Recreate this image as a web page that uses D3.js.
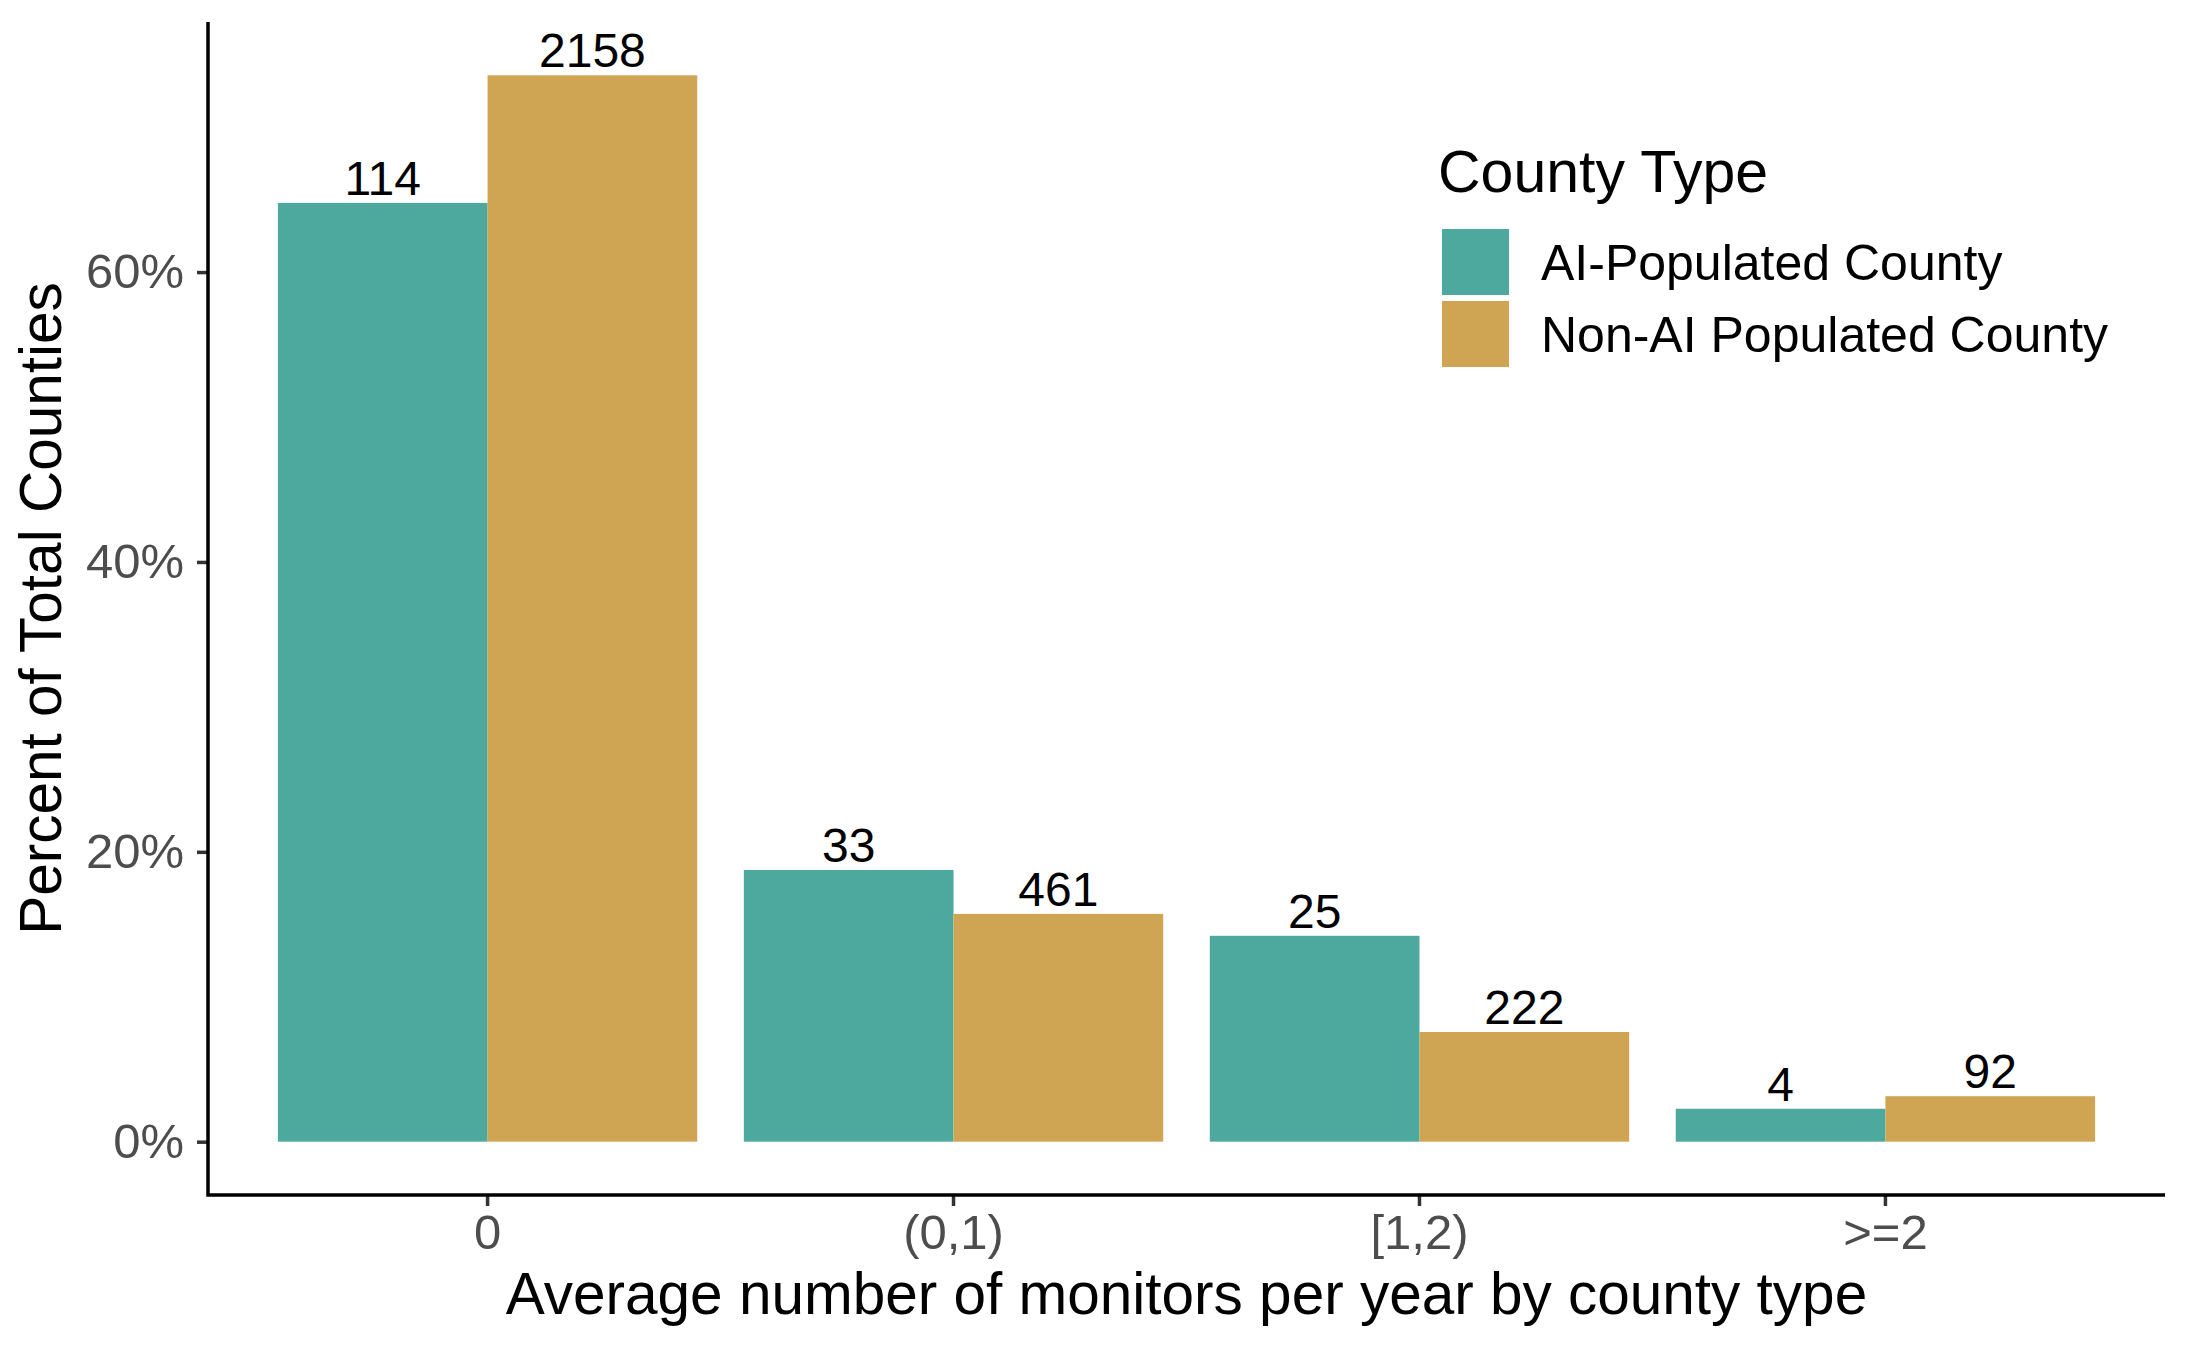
<!DOCTYPE html>
<html>
<head>
<meta charset="utf-8">
<script src="https://cdn.jsdelivr.net/npm/d3@7"></script>
<style>
  html, body { margin: 0; padding: 0; background: #fff; }
  svg { display: block; font-family: "Liberation Sans", Arial, Helvetica, sans-serif; }
</style>
</head>
<body>
<svg id="chart" width="2187" height="1351"></svg>
<script>
// Monitor bins along the x axis
const categories = ["0", "(0,1)", "[1,2)", ">=2"];

// County type series (legend order)
const seriesNames = ["AI-Populated County", "Non-AI Populated County"];
const seriesColors = ["#4DA89D", "#CFA553"];

// County counts per bin, one array per series
const aiCounts    = [114, 33, 25, 4];
const nonAiCounts = [2158, 461, 222, 92];

const yTicks = [0, 0.2, 0.4, 0.6];

const W = 2187, H = 1351;
// panel box (ggplot-like)
const P = { left: 208, right: 2165, top: 22, bottom: 1195 };

const countsBySeries = [aiCounts, nonAiCounts];
const totals = countsBySeries.map((arr) => d3.sum(arr));

// flatten into rows: share of counties within each county type
const rows = [];
categories.forEach((cat, i) => {
  seriesNames.forEach((s, j) => {
    const n = countsBySeries[j][i];
    rows.push({ cat, series: s, n, pct: n / totals[j], color: seriesColors[j] });
  });
});

const svg = d3.select("#chart");

const x = d3.scaleBand()
  .domain(categories)
  .range([P.left, P.right])
  .paddingInner(0.1)
  .paddingOuter(0.15);

const xSub = d3.scaleBand()
  .domain(seriesNames)
  .range([0, x.bandwidth()]);

// 5% expansion on both ends, like ggplot's default continuous scale
const maxPct = d3.max(rows, (d) => d.pct);
const pad = maxPct * 0.05;
const y = d3.scaleLinear()
  .domain([-pad, maxPct + pad])
  .range([P.bottom, P.top]);

// bars
svg.append("g")
  .selectAll("rect")
  .data(rows)
  .join("rect")
  .attr("x", (d) => x(d.cat) + xSub(d.series))
  .attr("width", xSub.bandwidth())
  .attr("y", (d) => y(d.pct))
  .attr("height", (d) => y(0) - y(d.pct))
  .attr("fill", (d) => d.color);

// count labels above bars
svg.append("g")
  .selectAll("text")
  .data(rows)
  .join("text")
  .attr("x", (d) => x(d.cat) + xSub(d.series) + xSub.bandwidth() / 2)
  .attr("y", (d) => y(d.pct) - 8)
  .attr("text-anchor", "middle")
  .attr("font-size", 48)
  .attr("fill", "#000")
  .text((d) => d.n);

// y axis
const yAxis = svg.append("g")
  .attr("transform", `translate(${P.left},0)`)
  .call(d3.axisLeft(y).tickValues(yTicks).tickFormat(d3.format(".0%")).tickSizeOuter(0).tickSize(11).tickPadding(13));
yAxis.select(".domain").remove();
yAxis.selectAll(".tick line").attr("stroke", "#333").attr("stroke-width", 3.5);
yAxis.selectAll(".tick text")
  .attr("font-size", 49)
  .attr("fill", "#4D4D4D")
  .attr("font-family", null);

// x axis
const xAxis = svg.append("g")
  .attr("transform", `translate(0,${P.bottom})`)
  .call(d3.axisBottom(x).tickSizeOuter(0).tickSize(11).tickPadding(8));
xAxis.select(".domain").remove();
xAxis.selectAll(".tick line").attr("stroke", "#333").attr("stroke-width", 3.5);
xAxis.selectAll(".tick text")
  .attr("font-size", 49)
  .attr("fill", "#4D4D4D")
  .attr("font-family", null);

// axis lines (L shape)
svg.append("path")
  .attr("d", `M${P.left},${P.top}V${P.bottom}H${P.right}`)
  .attr("fill", "none")
  .attr("stroke", "#000")
  .attr("stroke-width", 3.5);

// axis titles
svg.append("text")
  .attr("x", (P.left + P.right) / 2)
  .attr("y", 1314)
  .attr("text-anchor", "middle")
  .attr("font-size", 58.5)
  .text("Average number of monitors per year by county type");

svg.append("text")
  .attr("transform", `translate(61,${(P.top + P.bottom) / 2}) rotate(-90)`)
  .attr("text-anchor", "middle")
  .attr("font-size", 58.5)
  .text("Percent of Total Counties");

// legend
const legend = svg.append("g").attr("transform", "translate(1438,0)");
legend.append("text")
  .attr("x", 0)
  .attr("y", 192)
  .attr("font-size", 59)
  .text("County Type");

const keys = legend.selectAll("g.key")
  .data(seriesNames)
  .join("g")
  .attr("class", "key")
  .attr("transform", (d, i) => `translate(0,${229 + i * 72})`);
keys.append("rect")
  .attr("x", 4)
  .attr("width", 67)
  .attr("height", 66)
  .attr("fill", (d, i) => seriesColors[i]);
keys.append("text")
  .attr("x", 103)
  .attr("y", 51)
  .attr("font-size", 50)
  .text((d) => d);
</script>
</body>
</html>
